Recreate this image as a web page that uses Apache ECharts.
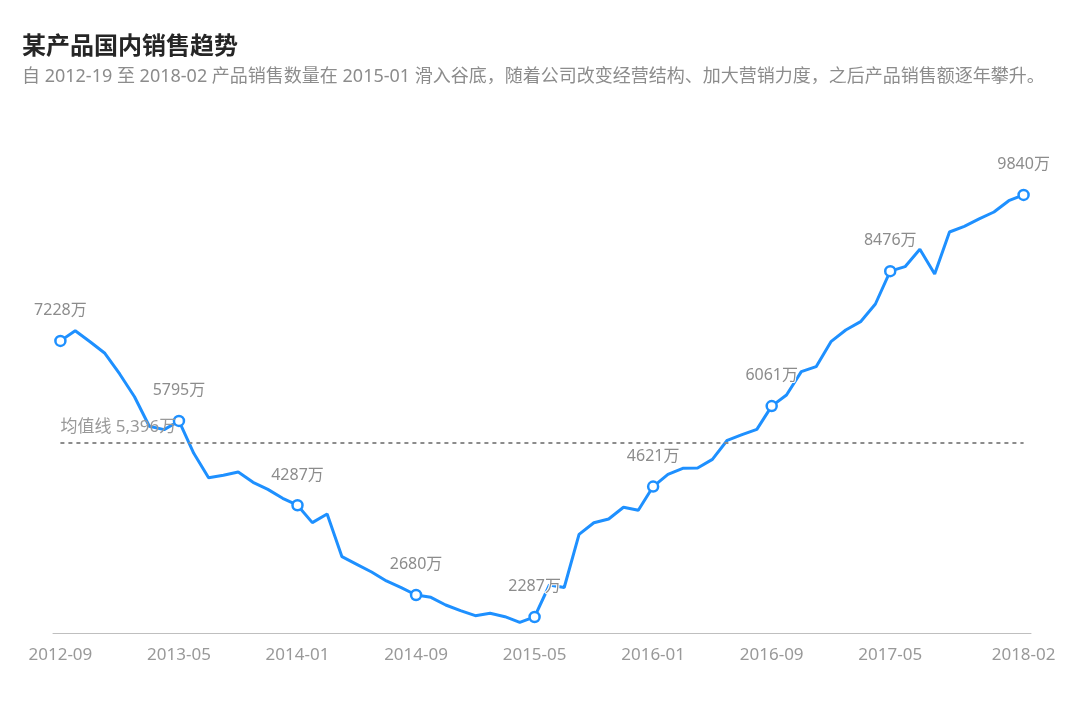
<!DOCTYPE html>
<html>
<head>
<meta charset="UTF-8">
<title>某产品国内销售趋势</title>
<style>
  html, body { margin: 0; padding: 0; background: #fff; }
  #main { width: 1077px; height: 719px; }
</style>
</head>
<body>
<div id="main"></div>
<script src="https://cdn.jsdelivr.net/npm/echarts@6/dist/echarts.min.js"></script>
<script>
// 月份：2012-09 到 2018-02
var months = [
  '2012-09','2012-10','2012-11','2012-12','2013-01','2013-02','2013-03','2013-04',
  '2013-05','2013-06','2013-07','2013-08','2013-09','2013-10','2013-11','2013-12',
  '2014-01','2014-02','2014-03','2014-04','2014-05','2014-06','2014-07','2014-08',
  '2014-09','2014-10','2014-11','2014-12','2015-01','2015-02','2015-03','2015-04',
  '2015-05','2015-06','2015-07','2015-08','2015-09','2015-10','2015-11','2015-12',
  '2016-01','2016-02','2016-03','2016-04','2016-05','2016-06','2016-07','2016-08',
  '2016-09','2016-10','2016-11','2016-12','2017-01','2017-02','2017-03','2017-04',
  '2017-05','2017-06','2017-07','2017-08','2017-09','2017-10','2017-11','2017-12',
  '2018-01','2018-02'
];
// 销售额（万）
var sales = [
  7228, 7410, 7213, 7006, 6636, 6229, 5700, 5640,
  5795, 5216, 4780, 4822, 4881, 4697, 4571, 4411,
  4287, 3975, 4130, 3366, 3229, 3092, 2931, 2811,
  2680, 2639, 2501, 2400, 2310, 2352, 2292, 2191,
  2287, 2859, 2814, 3766, 3974, 4040, 4250, 4196,
  4621, 4840, 4947, 4953, 5108, 5449, 5549, 5645,
  6061, 6259, 6677, 6766, 7214, 7423, 7572, 7888,
  8476, 8556, 8867, 8425, 9177, 9279, 9410, 9535,
  9737, 9840
];
var meanValue = 5396;
var lastIdx = months.length - 1;

// 每 8 个月一个标注点，离末尾太近的跳过，再加最后一个
function isKey(i) {
  return (i % 8 === 0 && lastIdx - i >= 8) || i === lastIdx;
}

var fontFamily = '"Noto Sans", "Noto Sans CJK SC", sans-serif';
var lineColor = '#1e90ff';

var seriesData = sales.map(function(v, i) {
  if (isKey(i)) {
    return { value: v, symbol: 'circle', symbolSize: 10, label: { show: true } };
  }
  return { value: v, symbol: 'none' };
});

var chart = echarts.init(document.getElementById('main'));
var option = {
  backgroundColor: '#fff',
  animation: false,
  title: {
    text: '某产品国内销售趋势',
    subtext: '自 2012-19 至 2018-02 产品销售数量在 2015-01 滑入谷底，随着公司改变经营结构、加大营销力度，之后产品销售额逐年攀升。',
    left: 17,
    top: 28,
    itemGap: 5,
    textStyle: {
      color: '#262626',
      fontSize: 24,
      lineHeight: 28,
      fontWeight: 'bold',
      fontFamily: fontFamily
    },
    subtextStyle: {
      color: '#8c8c8c',
      fontSize: 18,
      lineHeight: 22,
      fontFamily: fontFamily
    }
  },
  grid: {
    left: 53,
    right: 46,
    top: 186,
    bottom: 86
  },
  xAxis: {
    type: 'category',
    data: months,
    boundaryGap: true,
    axisLine: { lineStyle: { color: '#bfbfbf', width: 1 } },
    axisTick: {
      alignWithLabel: true,
      length: 5,
      lineStyle: { color: '#bfbfbf' },
      interval: function(i) { return isKey(i); }
    },
    axisLabel: {
      color: '#999',
      fontSize: 17,
      margin: 14,
      fontFamily: fontFamily,
      interval: function(i) { return isKey(i); }
    }
  },
  yAxis: {
    type: 'value',
    min: 2000,
    max: 10000,
    show: false,
    splitLine: { show: false }
  },
  series: [{
    type: 'line',
    data: seriesData,
    showAllSymbol: true,
    lineStyle: { color: lineColor, width: 3 },
    itemStyle: { color: '#fff', borderColor: lineColor, borderWidth: 2.5 },
    label: {
      show: false,
      position: 'top',
      distance: 16,
      color: '#8c8c8c',
      fontSize: 16,
      fontFamily: fontFamily,
      textBorderColor: '#fff',
      textBorderWidth: 2,
      formatter: function(p) { return p.value + '万'; }
    },
    markLine: {
      silent: true,
      symbol: 'none',
      lineStyle: { color: '#8c8c8c', type: [4, 4], width: 2 },
      label: {
        position: 'insideStartTop',
        color: '#999',
        fontSize: 17,
        fontFamily: fontFamily,
        distance: [0, 8],
        formatter: '均值线 ' + meanValue.toLocaleString('en-US') + '万'
      },
      data: [[
        { coord: [0, meanValue] },
        { coord: [lastIdx, meanValue] }
      ]]
    }
  }]
};
chart.setOption(option);
window.addEventListener('resize', function() {
  chart.resize();
});
</script>
</body>
</html>
